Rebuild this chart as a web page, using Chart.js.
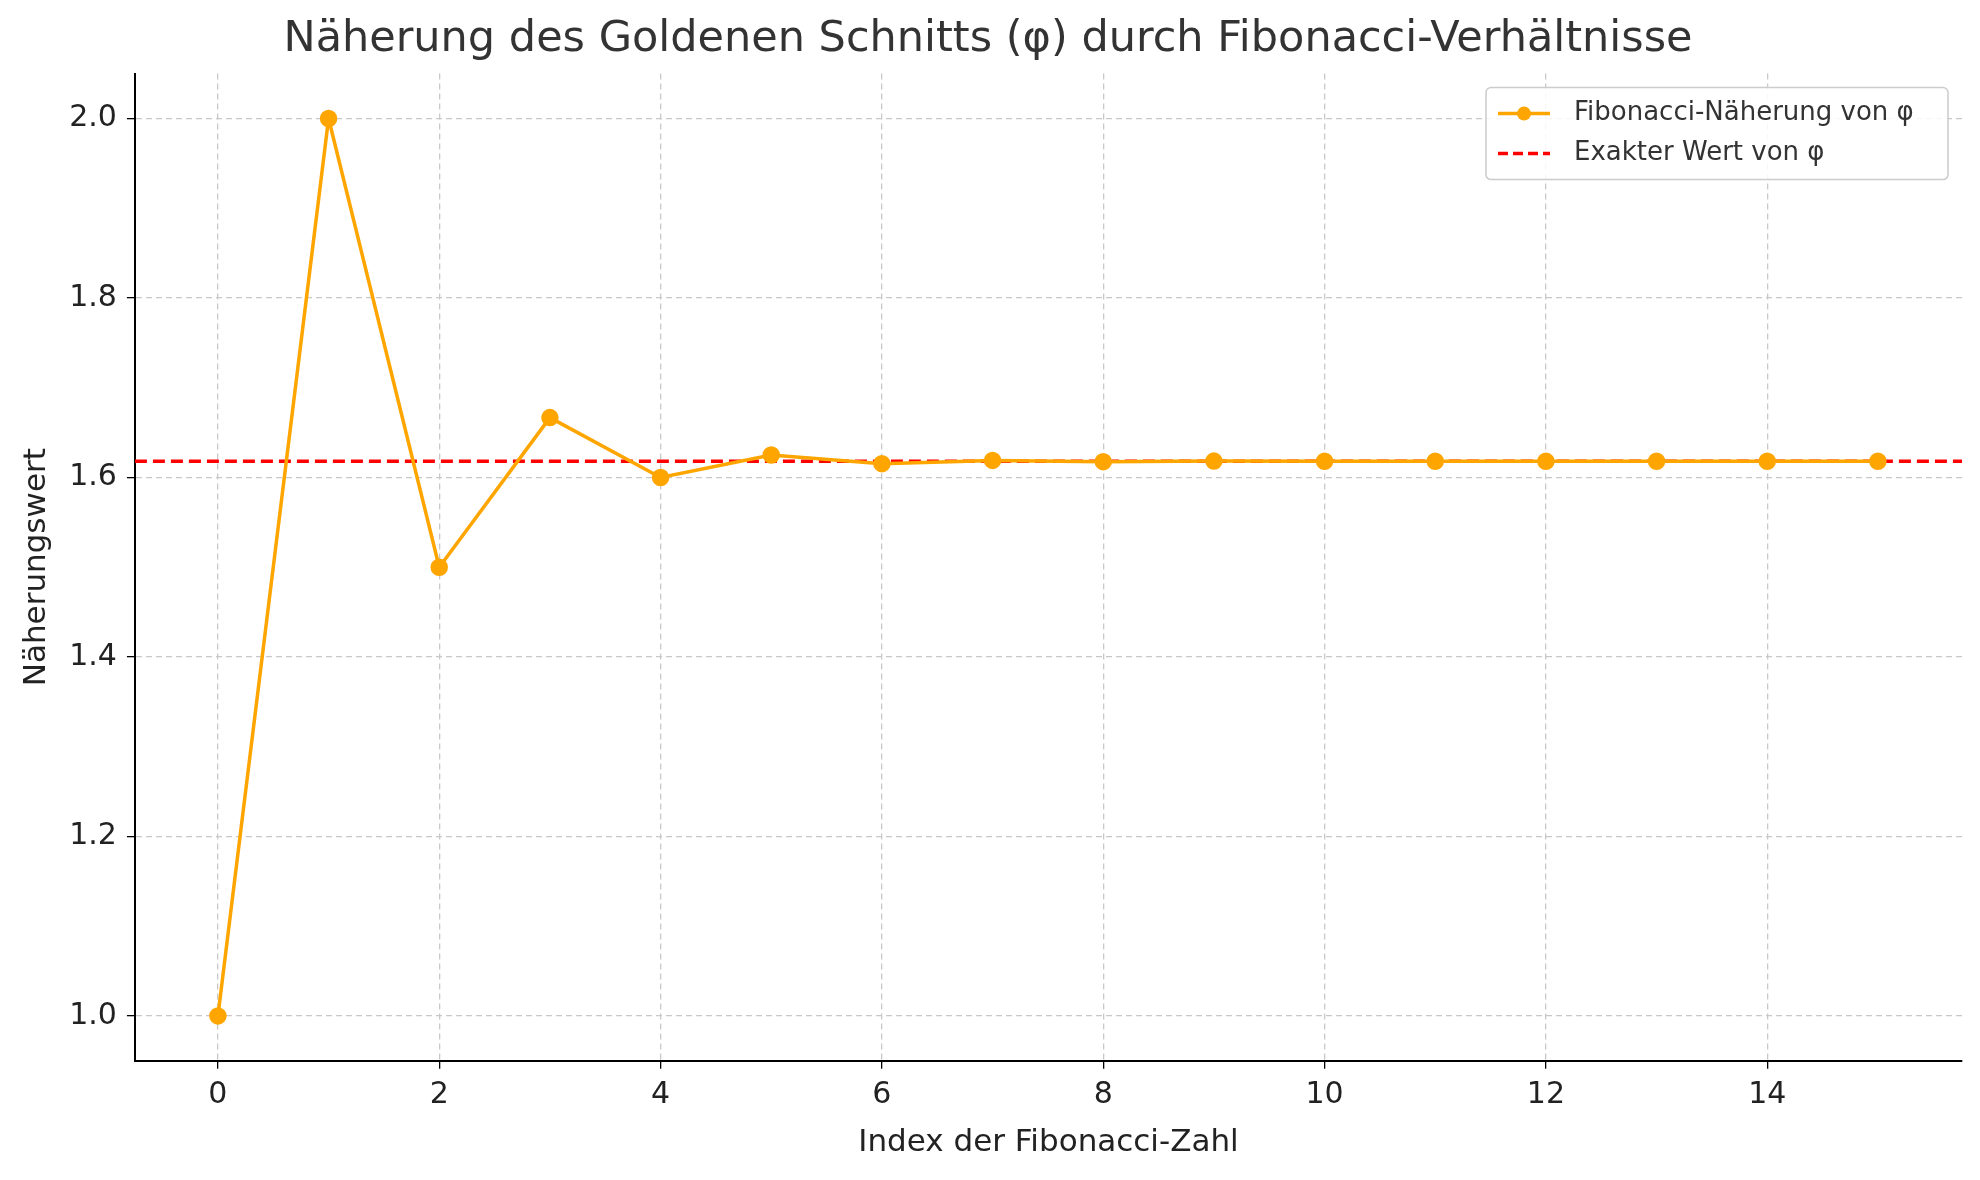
<!DOCTYPE html>
<html>
<head>
<meta charset="utf-8">
<script src="https://cdn.jsdelivr.net/npm/chart.js@4"></script>
<style>
  html, body { margin: 0; padding: 0; background: #fff; }
  #wrap { width: 1980px; height: 1180px; }
</style>
</head>
<body>
<div id="wrap"><canvas id="chart"></canvas></div>
<script>
const indices = [0, 1, 2, 3, 4, 5, 6, 7, 8, 9, 10, 11, 12, 13, 14, 15];
const ratios = [1.0, 2.0, 1.5, 1.6667, 1.6, 1.625, 1.6154, 1.619, 1.6176, 1.6182, 1.618, 1.618, 1.618, 1.618, 1.618, 1.618];
const phi = 1.6180339887;
const xTicks = [0, 2, 4, 6, 8, 10, 12, 14];
const yTicks = [1.0, 1.2, 1.4, 1.6, 1.8, 2.0];

const font = "'DejaVu Sans', sans-serif";
const orange = "#FFA500";

// legend box drawn in the top-right corner of the plot area
const insideLegend = {
    id: "insideLegend",
    afterDraw(chart) {
        const ctx = chart.ctx;
        const area = chart.chartArea;
        const w = 462, h = 92;
        const x = area.right - w - 14, y = area.top + 14;
        ctx.save();
        ctx.fillStyle = "rgba(255,255,255,0.85)";
        ctx.strokeStyle = "#cccccc";
        ctx.lineWidth = 1.5;
        ctx.beginPath();
        ctx.roundRect(x, y, w, h, 5);
        ctx.fill();
        ctx.stroke();
        ctx.font = "26px " + font;
        ctx.textBaseline = "middle";
        ctx.strokeStyle = orange;
        ctx.lineWidth = 3.5;
        ctx.beginPath();
        ctx.moveTo(x + 12, y + 26);
        ctx.lineTo(x + 64, y + 26);
        ctx.stroke();
        ctx.fillStyle = orange;
        ctx.beginPath();
        ctx.arc(x + 38, y + 26, 7, 0, Math.PI * 2);
        ctx.fill();
        ctx.fillStyle = "#333";
        ctx.fillText("Fibonacci-Näherung von φ", x + 88, y + 26);
        ctx.strokeStyle = "#ff0000";
        ctx.setLineDash([10, 5]);
        ctx.beginPath();
        ctx.moveTo(x + 12, y + 66);
        ctx.lineTo(x + 64, y + 66);
        ctx.stroke();
        ctx.setLineDash([]);
        ctx.fillText("Exakter Wert von φ", x + 88, y + 66);
        ctx.restore();
    }
};

new Chart(document.getElementById("chart"), {
    type: "line",
    data: {
        datasets: [
            {
                label: "Fibonacci-Näherung von φ",
                data: indices.map((i, k) => ({ x: i, y: ratios[k] })),
                borderColor: orange,
                backgroundColor: orange,
                borderWidth: 3.5,
                pointRadius: 7,
                pointHoverRadius: 7
            },
            {
                label: "Exakter Wert von φ",
                data: [{ x: -0.75, y: phi }, { x: 15.76, y: phi }],
                borderColor: "#ff0000",
                borderWidth: 3.5,
                borderDash: [12, 6],
                pointRadius: 0
            }
        ]
    },
    options: {
        responsive: true,
        maintainAspectRatio: false,
        animation: false,
        layout: { padding: { left: 14, right: 18, top: 0, bottom: 14 } },
        plugins: {
            legend: { display: false },
            tooltip: { enabled: false },
            title: {
                display: true,
                text: "Näherung des Goldenen Schnitts (φ) durch Fibonacci-Verhältnisse",
                color: "#333",
                font: { family: font, size: 43, weight: "normal" },
                padding: { top: 14, bottom: 8 }
            }
        },
        scales: {
            x: {
                type: "linear",
                min: -0.75,
                max: 15.76,
                afterBuildTicks: s => { s.ticks = xTicks.map(v => ({ value: v })); },
                ticks: { color: "#222", font: { family: font, size: 30 }, padding: 8 },
                grid: { color: "#c8c8c8", lineWidth: 1.3, tickLength: 8, tickColor: "#000" },
                border: { display: true, color: "#000", width: 2, dash: [6, 4] },
                title: { display: true, text: "Index der Fibonacci-Zahl", color: "#222", font: { family: font, size: 31 }, padding: { top: 4 } }
            },
            y: {
                min: 0.95,
                max: 2.05,
                afterBuildTicks: s => { s.ticks = yTicks.map(v => ({ value: v })); },
                ticks: { color: "#222", font: { family: font, size: 30 }, padding: 10, callback: v => v.toFixed(1) },
                grid: { color: "#c8c8c8", lineWidth: 1.3, tickLength: 8, tickColor: "#000" },
                border: { display: true, color: "#000", width: 2, dash: [6, 4] },
                title: { display: true, text: "Näherungswert", color: "#222", font: { family: font, size: 31 } }
            }
        }
    },
    plugins: [insideLegend]
});
</script>
</body>
</html>
